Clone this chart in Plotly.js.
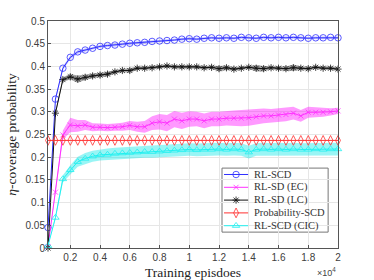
<!DOCTYPE html>
<html><head><meta charset="utf-8">
<script src="https://cdn.plot.ly/plotly-3.0.1.min.js"></script>
<style>html,body{margin:0;padding:0;background:#fff}#plot{width:374px;height:280px}</style>
</head><body><div id="plot"></div>
<script>
// Training episodes (x), one point every 500 episodes
const episodes = [];
for (let k = 1; k <= 40; k++) episodes.push(k * 500);

const xTickVals = [2000, 4000, 6000, 8000, 10000, 12000, 14000, 16000, 18000, 20000];
const xTickText = ["0.2", "0.4", "0.6", "0.8", "1", "1.2", "1.4", "1.6", "1.8", "2"];
const yTickVals = [0, 0.05, 0.1, 0.15, 0.2, 0.25, 0.3, 0.35, 0.4, 0.45, 0.5];
const yTickText = ["0", "0.05", "0.1", "0.15", "0.2", "0.25", "0.3", "0.35", "0.4", "0.45", "0.5"];

const names = ["RL-SCD", "RL-SD (EC)", "RL-SD (LC)", "Probability-SCD", "RL-SCD (CIC)"];

const rlScd = [0.045, 0.328, 0.396, 0.420, 0.432, 0.436, 0.440, 0.444, 0.446, 0.447,
  0.449, 0.451, 0.452, 0.453, 0.455, 0.456, 0.457, 0.458, 0.460, 0.461,
  0.460, 0.462, 0.463, 0.462, 0.463, 0.462, 0.464, 0.463, 0.462, 0.464,
  0.463, 0.464, 0.463, 0.464, 0.463, 0.462, 0.463, 0.463, 0.464, 0.463];
const rlScdErr = [0, 0.004, 0.004, 0.004, 0.004, 0.003, 0.003, 0.003, 0.003, 0.003,
  0.003, 0.003, 0.003, 0.003, 0.003, 0.003, 0.003, 0.003, 0.003, 0.003,
  0.003, 0.003, 0.003, 0.003, 0.003, 0.003, 0.003, 0.003, 0.003, 0.003,
  0.003, 0.003, 0.003, 0.003, 0.003, 0.003, 0.003, 0.003, 0.003, 0.003];

const rlSdEc = [0.003, 0.123, 0.249, 0.271, 0.269, 0.271, 0.266, 0.266, 0.265, 0.266,
  0.267, 0.270, 0.267, 0.267, 0.275, 0.278, 0.275, 0.284, 0.280, 0.284,
  0.284, 0.280, 0.284, 0.284, 0.286, 0.286, 0.286, 0.287, 0.289, 0.291,
  0.291, 0.293, 0.294, 0.297, 0.291, 0.299, 0.299, 0.299, 0.300, 0.302];
const rlSdEcErr = [0, 0.004, 0.010, 0.016, 0.013, 0.011, 0.009, 0.008, 0.008, 0.008,
  0.009, 0.010, 0.011, 0.013, 0.015, 0.017, 0.018, 0.018, 0.018, 0.017,
  0.016, 0.016, 0.016, 0.016, 0.016, 0.017, 0.018, 0.018, 0.017, 0.016,
  0.015, 0.015, 0.015, 0.014, 0.013, 0.012, 0.011, 0.010, 0.008, 0.007];

const rlSdLc = [0.000, 0.297, 0.371, 0.377, 0.372, 0.376, 0.379, 0.381, 0.383, 0.388,
  0.391, 0.391, 0.396, 0.396, 0.397, 0.399, 0.401, 0.399, 0.399, 0.399,
  0.399, 0.397, 0.398, 0.395, 0.397, 0.394, 0.396, 0.398, 0.396, 0.395,
  0.397, 0.396, 0.395, 0.397, 0.396, 0.395, 0.398, 0.396, 0.396, 0.394];
const rlSdLcErr = [0, 0.004, 0.005, 0.006, 0.008, 0.006, 0.005, 0.005, 0.005, 0.004,
  0.004, 0.005, 0.004, 0.004, 0.004, 0.004, 0.004, 0.004, 0.004, 0.004,
  0.004, 0.004, 0.004, 0.006, 0.005, 0.004, 0.004, 0.004, 0.007, 0.006,
  0.004, 0.004, 0.005, 0.007, 0.004, 0.004, 0.004, 0.004, 0.004, 0.004];

const probScd = [0.237, 0.237, 0.237, 0.237, 0.237, 0.237, 0.237, 0.237, 0.237, 0.237,
  0.237, 0.237, 0.237, 0.237, 0.237, 0.237, 0.237, 0.237, 0.237, 0.237,
  0.237, 0.237, 0.237, 0.237, 0.237, 0.237, 0.237, 0.237, 0.237, 0.237,
  0.237, 0.237, 0.237, 0.237, 0.237, 0.237, 0.237, 0.237, 0.237, 0.237];

const rlScdCic = [0.005, 0.067, 0.152, 0.172, 0.190, 0.197, 0.202, 0.205, 0.206, 0.208,
  0.209, 0.210, 0.211, 0.212, 0.212, 0.213, 0.214, 0.215, 0.216, 0.217,
  0.216, 0.217, 0.217, 0.218, 0.217, 0.218, 0.217, 0.211, 0.217, 0.218,
  0.217, 0.218, 0.217, 0.218, 0.217, 0.217, 0.218, 0.217, 0.218, 0.218];
const rlScdCicErr = [0, 0.004, 0.008, 0.010, 0.011, 0.012, 0.012, 0.012, 0.013, 0.013,
  0.013, 0.013, 0.013, 0.013, 0.013, 0.013, 0.013, 0.014, 0.014, 0.014,
  0.014, 0.014, 0.014, 0.014, 0.014, 0.014, 0.014, 0.014, 0.014, 0.014,
  0.014, 0.014, 0.014, 0.014, 0.014, 0.014, 0.014, 0.014, 0.014, 0.014];

const colors = ["#3030ff", "#ff30ff", "#111111", "#ff3030", "#20f0f0"];
const symbols = ["circle-open", "x-thin-open", "asterisk-open", "diamond-tall-open", "triangle-up-open"];
const sizes = [6.5, 5, 6, 7, 6.5];
const seriesValues = [rlScd, rlSdEc, rlSdLc, probScd, rlScdCic];

function band(y, err, fillcolor) {
  const up = y.map((v, i) => v + err[i]);
  const lo = y.map((v, i) => v - err[i]);
  return {
    x: episodes.concat(episodes.slice().reverse()),
    y: up.concat(lo.slice().reverse()),
    type: "scatter", mode: "lines", fill: "toself", fillcolor: fillcolor,
    line: {width: 0}, hoverinfo: "skip", showlegend: false
  };
}
function series(i) {
  return {
    x: episodes, y: seriesValues[i], name: names[i], type: "scatter", mode: "lines+markers",
    line: {color: colors[i], width: 1},
    marker: {symbol: symbols[i], size: sizes[i], color: colors[i], line: {color: colors[i], width: 0.8}},
    cliponaxis: false, showlegend: false
  };
}

const data = [
  band(rlScdCic, rlScdCicErr, "rgba(0,230,230,0.4)"),
  band(rlSdEc, rlSdEcErr, "rgba(255,0,255,0.4)"),
  band(rlSdLc, rlSdLcErr, "rgba(60,60,60,0.45)"),
  band(rlScd, rlScdErr, "rgba(80,80,255,0.35)")
];
for (let i = 0; i < 5; i++) data.push(series(i));

// Manual legend (compact, MATLAB-like), in paper coordinates of the plot area
const legX0 = 0.600, legX1 = 0.966, legYTop = 0.352, legYBot = 0.070;
const rowH = (legYTop - legYBot) / 5;
const lineX0 = 0.607, lineX1 = 0.690, textX = 0.703;
const shapes = [{
  type: "rect", xref: "paper", yref: "paper", x0: legX0, x1: legX1, y0: legYBot, y1: legYTop,
  fillcolor: "#fff", line: {color: "#777", width: 1}, layer: "between"
}];
const annotations = [];
for (let i = 0; i < 5; i++) {
  const yc = legYTop - rowH * (i + 0.5);
  shapes.push({type: "line", xref: "paper", yref: "paper", x0: lineX0, x1: lineX1, y0: yc, y1: yc,
    line: {color: colors[i], width: 1}, layer: "above"});
  annotations.push({text: names[i], xref: "paper", yref: "paper", x: textX, y: yc,
    xanchor: "left", yanchor: "middle", showarrow: false,
    font: {family: "Liberation Serif, Times New Roman, serif", size: 10.5, color: "#333"}});
  data.push({x: [(lineX0 + lineX1) / 2], y: [yc], xaxis: "x2", yaxis: "y2", type: "scatter", mode: "markers",
    marker: {symbol: symbols[i], size: sizes[i], color: colors[i], line: {color: colors[i], width: 0.8}},
    showlegend: false, hoverinfo: "skip", cliponaxis: false});
}
annotations.push({
  text: "×10<sup>4</sup>", xref: "paper", yref: "paper", x: 1.0, y: -0.106,
  xanchor: "right", yanchor: "middle", showarrow: false,
  font: {family: "Liberation Sans, Arial, sans-serif", size: 9, color: "#444"}
});

const tickFont = {family: "Liberation Sans, Arial, sans-serif", size: 10, color: "#404040"};
const titleFont = {family: "Liberation Serif, Times New Roman, serif", size: 13.5, color: "#222"};
const layout = {
  width: 374, height: 280,
  margin: {l: 48, r: 36, t: 21, b: 32},
  paper_bgcolor: "#fff", plot_bgcolor: "#fff",
  showlegend: false,
  xaxis: {
    range: [500, 20000], tickvals: xTickVals, ticktext: xTickText,
    showgrid: true, gridcolor: "#e6e6e6", gridwidth: 1,
    zeroline: false, showline: true, linecolor: "#555", linewidth: 1, mirror: true,
    ticks: "inside", ticklen: 3, tickcolor: "#555", tickfont: tickFont,
    title: {text: "Training episdoes", font: titleFont, standoff: 6}
  },
  yaxis: {
    range: [0, 0.5], tickvals: yTickVals, ticktext: yTickText,
    showgrid: true, gridcolor: "#e6e6e6", gridwidth: 1,
    zeroline: false, showline: true, linecolor: "#555", linewidth: 1, mirror: true,
    ticks: "inside", ticklen: 3, tickcolor: "#555", tickfont: tickFont,
    title: {text: "<i>η</i>-coverage probability", font: titleFont, standoff: 5}
  },
  xaxis2: {overlaying: "x", range: [0, 1], visible: false, fixedrange: true},
  yaxis2: {overlaying: "y", range: [0, 1], visible: false, fixedrange: true},
  shapes: shapes,
  annotations: annotations
};

Plotly.newPlot("plot", data, layout, {displayModeBar: false, staticPlot: true});
</script></body></html>
